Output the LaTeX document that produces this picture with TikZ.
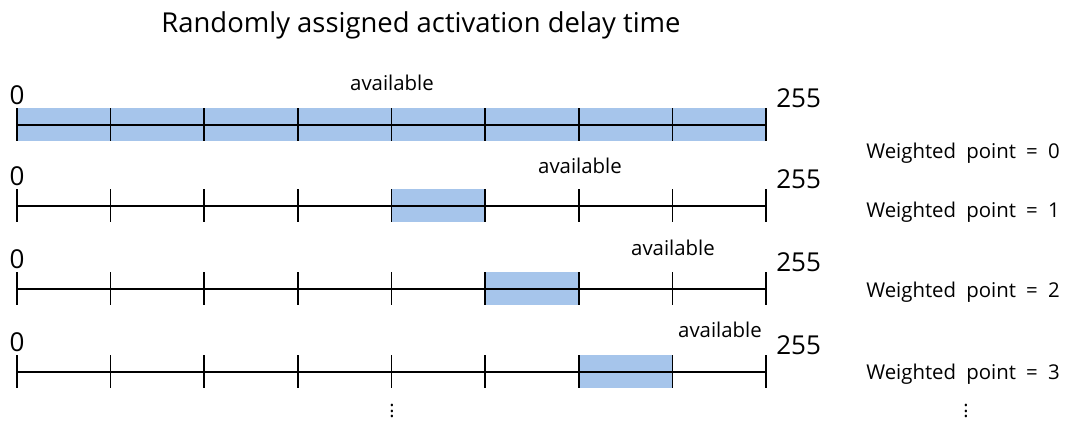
\documentclass[tikz,border=0pt]{standalone}
\usepackage{fontspec}
\setmainfont{Open Sans}
\definecolor{slotblue}{RGB}{166,197,235}

\begin{document}
\begin{tikzpicture}[
  x=0.025cm, y=-0.025cm,
  axis/.style={line width=1.1pt},
  slot/.style={fill=slotblue,draw=none},
  small/.style={inner sep=0pt,font=\fontsize{14.5}{17}\selectfont},
  big/.style={inner sep=0pt,font=\fontsize{18.5}{22}\selectfont}
]
\useasboundingbox (0,0) rectangle (1068,424);
% title
\node[inner sep=0pt,font=\fontsize{19.5}{23}\selectfont] (title) at (421,25)
  {Randomly assigned activation delay time};
% one row per weighted point
\foreach \r/\y/\a/\b/\ax/\ay/\wy in {0/125/0/8/392/83/153, 1/206/4/5/580/166/212,
                                     2/289/5/6/673/248/292, 3/372/6/7/720/330/374} {
  \foreach \i in {0,...,8}
    \coordinate (t\r-\i) at (17+93.625*\i,\y);
  \fill[slot] ([shift={(0,-17)}]t\r-\a) rectangle ([shift={(0,16)}]t\r-\b);
  \draw[axis] (t\r-0) -- (t\r-8);
  \foreach \i in {0,...,8}
    \draw[axis] ([shift={(0,-17)}]t\r-\i) -- ([shift={(0,16)}]t\r-\i);
  \node[big,anchor=south] (zero\r) at ([shift={(0,-20)}]t\r-0) {0};
  \node[big,anchor=south west] (max\r) at ([shift={(10,-17)}]t\r-8) {255};
  \node[small] (avail\r) at (\ax,\ay) {available};
  \node[small,anchor=west] (wp\r) at (866,\wy)
    {Weighted\hspace{0.5em}point\hspace{0.5em}=\hspace{0.5em}\r};
}
% more rows follow
\node[inner sep=0pt,font=\fontsize{14}{14}\selectfont] (more) at (392,407) {$\vdots$};
\node[inner sep=0pt,font=\fontsize{14}{14}\selectfont] (morewp) at (966,407) {$\vdots$};
\end{tikzpicture}
\end{document}
